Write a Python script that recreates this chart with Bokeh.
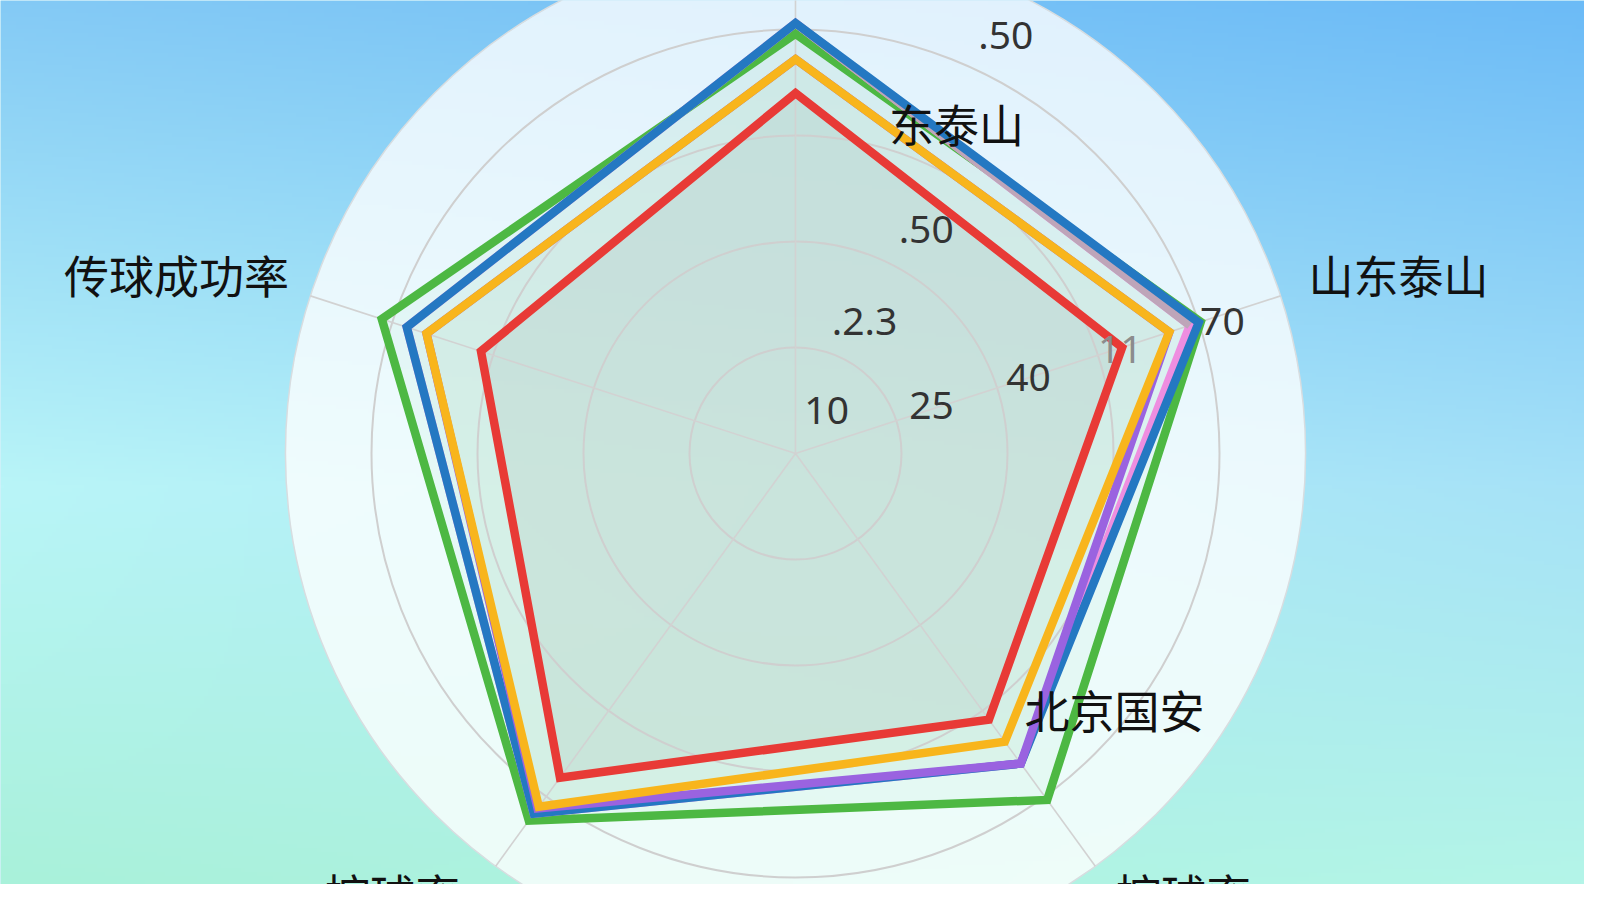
import numpy as np
from bokeh.plotting import figure
from bokeh.models import Range1d
from bokeh.core.properties import value
from bokeh.embed import file_html
from bokeh.resources import INLINE

# ---------------- data ----------------
categories = ["东泰山", "山东泰山", "控球率", "控球率", "传球成功率"]
extra_label = "北京国安"

green_vals = [99.0, 100.5, 101.0, 107.0, 102.6]
pink_vals = [101.5, 97.8, 90.4, 105.0, 96.4]
blue_vals = [101.5, 100.0, 90.4, 105.0, 96.4]
purple_vals = [93.0, 92.7, 90.4, 103.5, 91.5]
orange_vals = [93.0, 92.7, 84.0, 103.0, 91.5]
red_vals = [85.0, 81.0, 77.6, 94.5, 78.0]

ring_values = [25, 50, 75, 100]
outer_value = 120.3

tick_labels = ["10", "25", "40", "11", "70", ".2.3", ".50", ".50"]
tick_radii = [12.5, 34.0, 57.8, 80.4, 105.4, 35.1, 61.1, 110.4]
tick_angles = [54.0, 19.4, 18.0, 17.7, 17.2, 62.4, 59.7, 63.3]

# ---------------- layout ----------------
W, H = 1584, 884
CX, CY = 795, 453          # centre in figure pixels (from top-left)
PX = 4.24                  # pixels per value unit

p = figure(width=W, height=H, output_backend="svg", toolbar_location=None,
           x_range=Range1d(-CX, W - CX), y_range=Range1d(CY - H, CY),
           min_border=0, outline_line_color=None)
p.axis.visible = False
p.grid.visible = False
p.background_fill_color = "#a9e3f6"
p.border_fill_color = "#a9e3f6"

# background gradient
def hx(c):
    return np.array([int(c[1:3], 16), int(c[3:5], 16), int(c[5:7], 16)], dtype=float)

gw, gh = 396, 221
ty = np.linspace(0, 1, gh)[:, None]    # 0 = top
tx = np.linspace(0, 1, gw)[None, :]
stops_y = [0.0, 0.55, 1.0]
left_cols = [hx("#84caf5"), hx("#b9f5f8"), hx("#a9f1da")]
right_cols = [hx("#6cbbf7"), hx("#a6e2f7"), hx("#b4f5e8")]
img = np.zeros((gh, gw, 3))
for ch in range(3):
    lc = np.interp(ty[:, 0], stops_y, [c[ch] for c in left_cols])[:, None]
    rc = np.interp(ty[:, 0], stops_y, [c[ch] for c in right_cols])[:, None]
    img[:, :, ch] = lc * (1 - tx) + rc * tx
img = img[::-1]  # row 0 at bottom
rgba = np.empty((gh, gw), dtype=np.uint32)
view = rgba.view(dtype=np.uint8).reshape((gh, gw, 4))
view[:, :, 0] = img[:, :, 0].astype(np.uint8)
view[:, :, 1] = img[:, :, 1].astype(np.uint8)
view[:, :, 2] = img[:, :, 2].astype(np.uint8)
view[:, :, 3] = 255
p.image_rgba(image=[rgba], x=-CX, y=CY - H, dw=W, dh=H)

# disc
p.circle(x=0, y=0, radius=outer_value * PX, fill_color="white", fill_alpha=0.78,
         line_color="#d8dde0", line_width=1.5)

n = len(categories)
ang = np.deg2rad([90 - 72 * i for i in range(n)])


def poly(vals):
    v = np.array(vals) * PX
    return list(np.cos(ang) * v), list(np.sin(ang) * v)


series = [
    (green_vals, "#4db843"),
    (pink_vals, "#ee8ee0"),
    (blue_vals, "#2478c2"),
    (purple_vals, "#9a63e0"),
    (orange_vals, "#f8b51c"),
    (red_vals, "#e83a36"),
]
fill_tints = ["#9ee3bf", "#b0d8c8", "#a8d8d0", "#b0d0c4", "#a6dcb6", "#8aa59a"]
fill_alphas = [0.10, 0.05, 0.06, 0.05, 0.10, 0.14]

# translucent fills under the grid
for (vals, col), ft, fa in zip(series, fill_tints, fill_alphas):
    xs, ys = poly(vals)
    p.patch(xs, ys, fill_color=ft, fill_alpha=fa, line_color=None)

# rings and spokes
p.circle(x=[0] * len(ring_values), y=[0] * len(ring_values),
         radius=[v * PX for v in ring_values], fill_color=None,
         line_color="#cfcfcf", line_width=2)
p.segment(x0=[0] * n, y0=[0] * n,
          x1=list(np.cos(ang) * outer_value * PX), y1=list(np.sin(ang) * outer_value * PX),
          line_color="#d2d2d2", line_width=1.6)

# outlines
for vals, col in series:
    xs, ys = poly(vals)
    p.patch(xs, ys, fill_color=None, line_color=col, line_width=8.5, line_join="miter")
    if col == "#ee8ee0":
        p.line(xs[0:2], ys[0:2], line_color="#bea5b9", line_width=8.5, line_join="miter")

# tick labels
ta = np.deg2rad(tick_angles)
tr = np.array(tick_radii) * PX
tcol = ["#333333"] * len(tick_labels)
tcol[3] = "#8c8c8c"
p.text(x=list(np.cos(ta) * tr), y=list(np.sin(ta) * tr), text=tick_labels,
       text_color=tcol, text_font=value("Noto Sans"), text_font_size="39px",
       text_align="center", text_baseline="middle")

# category labels (page positions relative to the centre)
label_pos = [(161, 330), (603, 179), (388, -440), (-403, -440), (-619, 179)]
p.text(x=[q[0] for q in label_pos], y=[q[1] for q in label_pos], text=categories,
       text_color="#111111", text_font=value("Noto Sans CJK SC"), text_font_size="45px",
       text_align="center", text_baseline="middle")
p.text(x=[319], y=[-256], text=[extra_label],
       text_color="#111111", text_font=value("Noto Sans CJK SC"), text_font_size="45px",
       text_align="center", text_baseline="middle")

open("out.html", "w").write(file_html(p, INLINE))
